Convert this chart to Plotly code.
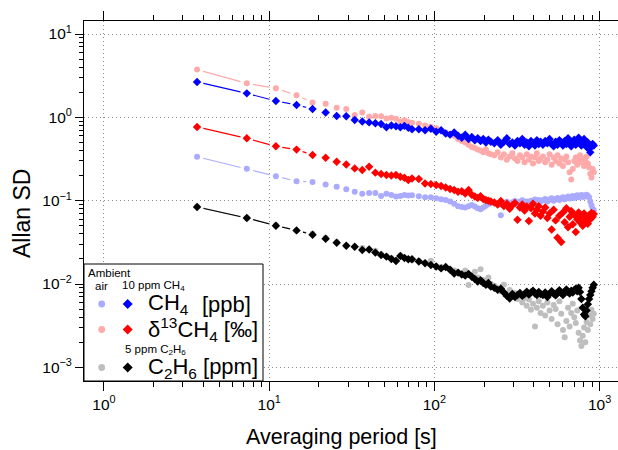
import plotly.graph_objects as go

# ---------------- data ----------------
tau_s = [3.66, 7.32, 10.98, 14.64, 18.3, 21.96, 25.62, 29.28, 32.94, 36.6,
         40.26, 43.92, 47.58, 51.24, 54.9, 58.56, 62.22, 65.88, 69.54, 73.2,
         80.5, 87.8, 95.2, 102.5, 109.8, 117.1, 124.4, 131.8, 139.1, 146.4,
         153.7, 161.0, 168.4, 175.7, 183.0, 190.3, 197.6, 205.0, 212.3, 219.6,
         230.6, 241.6, 252.5, 263.5, 274.5, 285.5, 296.5, 307.4, 318.4, 329.4,
         340.4, 351.4, 362.3, 373.3, 384.3, 395.3, 406.3, 417.2, 428.2, 439.2,
         453.8, 468.5, 483.1, 497.8, 512.4, 527.0, 541.7, 556.3, 571.0, 585.6,
         600.2, 614.9, 629.5, 644.2, 658.8, 673.4, 688.1, 702.7, 717.4, 732.0,
         746.6, 761.3, 775.9, 790.6, 805.2, 819.8, 834.5, 849.1, 863.8, 878.4,
         893.0, 907.7, 922.3]

# CH4 [ppb]
ch4_air = [0.337, 0.242, 0.196, 0.171, 0.168, 0.156, 0.147, 0.137, 0.128, 0.121,
           0.124, 0.124, 0.114, 0.121, 0.117, 0.112, 0.114, 0.117, 0.115, 0.116,
           0.113, 0.110, 0.110, 0.107, 0.104, 0.102, 0.098, 0.092, 0.086, 0.084,
           0.083, 0.086, 0.089, 0.085, 0.081, 0.079, 0.083, 0.087, 0.091, 0.093,
           0.095, 0.090, 0.067, 0.094, 0.097, 0.092, 0.096, 0.099, 0.093, 0.097,
           0.101, 0.095, 0.098, 0.094, 0.100, 0.097, 0.103, 0.099, 0.102, 0.098,
           0.101, 0.105, 0.098, 0.103, 0.107, 0.100, 0.104, 0.108, 0.102, 0.106,
           0.110, 0.104, 0.108, 0.112, 0.106, 0.110, 0.114, 0.108, 0.112, 0.116,
           0.110, 0.113, 0.117, 0.111, 0.115, 0.112, 0.118, 0.114, 0.110, 0.098,
           0.088, 0.080, 0.077]
ch4_10ppm = [2.66, 1.94, 1.57, 1.41, 1.26, 1.14, 1.04, 1.03, 0.93, 0.89,
             0.87, 0.85, 0.83, 0.76, 0.80, 0.78, 0.76, 0.79, 0.75, 0.72,
             0.72, 0.70, 0.73, 0.67, 0.70, 0.64, 0.62, 0.66, 0.60, 0.57,
             0.62, 0.55, 0.58, 0.53, 0.56, 0.52, 0.55, 0.50, 0.54, 0.51,
             0.49, 0.53, 0.47, 0.51, 0.56, 0.48, 0.50, 0.46, 0.52, 0.49,
             0.55, 0.47, 0.50, 0.45, 0.52, 0.49, 0.46, 0.53, 0.48, 0.51,
             0.47, 0.52, 0.49, 0.55, 0.48, 0.45, 0.51, 0.47, 0.53, 0.50,
             0.46, 0.52, 0.48, 0.56, 0.50, 0.45, 0.49, 0.54, 0.47, 0.51,
             0.57, 0.49, 0.46, 0.52, 0.55, 0.48, 0.44, 0.50, 0.42, 0.38,
             0.45, 0.48, 0.46]

# delta13CH4 [permil]
d13c_air = [3.74, 2.56, 2.23, 1.84, 1.51, 1.46, 1.30, 1.26, 1.07, 1.14,
            1.02, 1.04, 1.03, 0.97, 0.99, 0.96, 0.89, 0.92, 0.88, 0.86,
            0.84, 0.80, 0.77, 0.74, 0.70, 0.66, 0.63, 0.60, 0.55, 0.52,
            0.50, 0.47, 0.44, 0.43, 0.41, 0.40, 0.38, 0.41, 0.37, 0.36,
            0.35, 0.38, 0.33, 0.36, 0.31, 0.34, 0.37, 0.32, 0.30, 0.35,
            0.33, 0.29, 0.36, 0.31, 0.34, 0.28, 0.33, 0.37, 0.30, 0.32,
            0.34, 0.29, 0.31, 0.36, 0.27, 0.33, 0.30, 0.35, 0.28, 0.32,
            0.26, 0.31, 0.34, 0.29, 0.22, 0.18, 0.24, 0.30, 0.33, 0.27,
            0.31, 0.35, 0.29, 0.32, 0.26, 0.30, 0.34, 0.28, 0.25, 0.21,
            0.19, 0.24, 0.22]
d13c_10ppm = [0.767, 0.56, 0.449, 0.41, 0.354, 0.328, 0.294, 0.272, 0.244, 0.233,
              0.256, 0.217, 0.209, 0.203, 0.200, 0.203, 0.194, 0.188, 0.177, 0.185,
              0.182, 0.161, 0.158, 0.154, 0.150, 0.144, 0.138, 0.134, 0.128, 0.130,
              0.122, 0.134, 0.118, 0.112, 0.108, 0.113, 0.105, 0.102, 0.100, 0.098,
              0.095, 0.090, 0.099, 0.086, 0.092, 0.080, 0.088, 0.094, 0.059, 0.083,
              0.090, 0.076, 0.085, 0.057, 0.081, 0.092, 0.070, 0.078, 0.086, 0.066,
              0.074, 0.083, 0.062, 0.070, 0.045, 0.078, 0.058, 0.036, 0.066, 0.032,
              0.072, 0.055, 0.081, 0.048, 0.064, 0.075, 0.052, 0.068, 0.042, 0.060,
              0.072, 0.055, 0.065, 0.050, 0.070, 0.058, 0.063, 0.053, 0.067, 0.060,
              0.071, 0.064, 0.069]

# C2H6 [ppm]
c2h6_air = [0.085, 0.062, 0.051, 0.044, 0.040, 0.036, 0.032, 0.029, 0.028, 0.027,
            0.026, 0.025, 0.0228, 0.0216, 0.0205, 0.0196, 0.0220, 0.0208, 0.0200, 0.0194,
            0.0190, 0.0180, 0.0190, 0.0165, 0.0160, 0.0158, 0.0150, 0.0145, 0.0138, 0.0133,
            0.0145, 0.0097, 0.0128, 0.0140, 0.0120, 0.0150, 0.0112, 0.0108, 0.0120, 0.0100,
            0.0095, 0.0090, 0.0082, 0.0098, 0.0075, 0.0085, 0.0070, 0.0078, 0.0066, 0.0072,
            0.0060, 0.0068, 0.0055, 0.0065, 0.0049, 0.0058, 0.0031, 0.0052, 0.0062, 0.0045,
            0.0055, 0.0042, 0.0060, 0.0048, 0.0038, 0.0056, 0.0050, 0.0033, 0.0062, 0.0044,
            0.0028, 0.0023, 0.0036, 0.0052, 0.0031, 0.0045, 0.0058, 0.0040, 0.0034, 0.0048,
            0.0026, 0.0021, 0.0018, 0.0024, 0.0030, 0.0020, 0.0035, 0.0028, 0.0042, 0.0033,
            0.0049, 0.0038, 0.0044]
c2h6_5ppm = [0.084, 0.062, 0.050, 0.044, 0.039, 0.035, 0.0313, 0.0288, 0.028, 0.0256,
             0.026, 0.0238, 0.0223, 0.0213, 0.0200, 0.0189, 0.0217, 0.0205, 0.0198, 0.0198,
             0.0186, 0.0177, 0.0169, 0.0162, 0.0154, 0.0160, 0.0148, 0.0134, 0.0137, 0.0130,
             0.0126, 0.0132, 0.0122, 0.0115, 0.0107, 0.0111, 0.0103, 0.0098, 0.0103, 0.0093,
             0.0090, 0.0085, 0.0088, 0.0079, 0.0072, 0.0067, 0.0076, 0.0070, 0.0074, 0.0078,
             0.0072, 0.0076, 0.0081, 0.0075, 0.0079, 0.0083, 0.0077, 0.0074, 0.0080, 0.0076,
             0.0074, 0.0079, 0.0070, 0.0076, 0.0082, 0.0077, 0.0073, 0.0079, 0.0084, 0.0078,
             0.0074, 0.0081, 0.0086, 0.0080, 0.0077, 0.0083, 0.0079, 0.0085, 0.0088, 0.0082,
             0.0090, 0.0080, 0.0066, 0.0052, 0.0043, 0.0041, 0.0048, 0.0057, 0.0066, 0.0074,
             0.0082, 0.0090, 0.0098]

x_tick_vals = [1, 10, 100, 1000]
x_tick_text = ["10<sup>0</sup>", "10<sup>1</sup>", "10<sup>2</sup>", "10<sup>3</sup>"]
y_tick_vals = [0.001, 0.01, 0.1, 1, 10]
y_tick_text = ["10<sup>\u22123</sup>", "10<sup>\u22122</sup>", "10<sup>\u22121</sup>",
               "10<sup>0</sup>", "10<sup>1</sup>"]

# ---------------- styling ----------------
FONT = "Liberation Sans, Arial, Helvetica, sans-serif"
C_LBLUE, C_BLUE = "#aaaaff", "#0000ff"
C_PINK, C_RED = "#ffaaaa", "#ff0000"
C_GRAY, C_BLACK = "#bebebe", "#000000"
GRID = dict(showgrid=True, gridcolor="#8c8c8c", griddash="1px,3px", gridwidth=1)

W_FIG, H_FIG = 618, 450
L, R, T, B = 84, 618, 21, 381
PW, PH = R - L, B - T


def px(x):
    return (x - L) / PW


def py(y):
    return (B - y) / PH


series = [
    (ch4_air, C_LBLUE, "circle", 6),
    (d13c_air, C_PINK, "circle", 6),
    (c2h6_air, C_GRAY, "circle", 6),
    (ch4_10ppm, C_BLUE, "diamond", 6.5),
    (d13c_10ppm, C_RED, "diamond", 6.5),
    (c2h6_5ppm, C_BLACK, "diamond", 6.5),
]
N_LINE = 5  # connecting segments visible only at the sparse start (type="b")

fig = go.Figure()
for vals, col, sym, sz in series:
    fig.add_trace(go.Scatter(x=tau_s[:N_LINE], y=vals[:N_LINE], mode="lines",
                             line=dict(color=col, width=1.2), showlegend=False,
                             hoverinfo="skip"))
for vals, col, sym, sz in series:
    fig.add_trace(go.Scatter(x=tau_s[:N_LINE], y=vals[:N_LINE], mode="markers",
                             marker=dict(color="white", size=13, symbol="circle",
                                         line=dict(width=0)),
                             showlegend=False, hoverinfo="skip"))
for vals, col, sym, sz in series:
    fig.add_trace(go.Scatter(x=tau_s, y=vals, mode="markers",
                             marker=dict(color=col, size=sz, symbol=sym,
                                         line=dict(width=0)),
                             showlegend=False))
fig.add_trace(go.Scatter(x=[tau_s[0]], y=[ch4_10ppm[0]], xaxis="x2", mode="markers",
                         marker=dict(opacity=0), showlegend=False, hoverinfo="skip"))

minor_x = [m * 10 ** k for k in range(0, 3) for m in range(2, 10)]
minor_y = [m * 10.0 ** k for k in range(-3, 1) for m in range(2, 10)]
xr = [-0.121, -0.121 + PW / 165.2]
yr = [-3.164, -3.164 + PH / 83.33]

tickfont = dict(family=FONT, size=15.5, color="black")
common_x = dict(type="log", range=xr, showline=True, linecolor="black", linewidth=1,
                ticks="outside", ticklen=9, tickwidth=1, tickcolor="black",
                tickmode="array", tickvals=x_tick_vals, automargin=False,
                minor=dict(ticks="outside", ticklen=5, tickwidth=1, tickcolor="black",
                           tickmode="array", tickvals=minor_x, showgrid=False),
                zeroline=False)

fig.update_layout(
    width=W_FIG, height=H_FIG,
    margin=dict(l=L, r=W_FIG - R, t=T, b=H_FIG - B, pad=0, autoexpand=False),
    paper_bgcolor="white", plot_bgcolor="white",
    font=dict(family=FONT, color="black"),
    xaxis=dict(**common_x, ticktext=x_tick_text, tickfont=tickfont, side="bottom",
               **GRID),
    xaxis2=dict(**common_x, overlaying="x", side="top", showticklabels=False,
                showgrid=False),
    yaxis=dict(type="log", range=yr, showline=True, linecolor="black", linewidth=1,
               ticks="outside", ticklen=8, tickwidth=1, tickcolor="black",
               tickmode="array", tickvals=y_tick_vals, ticktext=y_tick_text,
               tickfont=tickfont, automargin=False,
               minor=dict(ticks="outside", ticklen=4, tickwidth=1, tickcolor="black",
                          tickmode="array", tickvals=minor_y, showgrid=False),
               zeroline=False, **GRID),
)

annotations = []
shapes = []

annotations.append(dict(text="Averaging period [s]", x=px(341.5), y=py(437),
                        xref="paper", yref="paper", xanchor="center", yanchor="middle",
                        showarrow=False, font=dict(family=FONT, size=21.5)))
annotations.append(dict(text="Allan SD", x=px(22), y=py(214), textangle=-90,
                        xref="paper", yref="paper", xanchor="center", yanchor="middle",
                        showarrow=False, font=dict(family=FONT, size=23)))

shapes.append(dict(type="rect", xref="paper", yref="paper", x0=px(84), x1=px(263),
                   y0=py(381), y1=py(264), line=dict(color="black", width=1),
                   fillcolor="white", layer="above"))

small = dict(family=FONT, size=11.5, color="black")
big = dict(family=FONT, size=22, color="black")


def txt(s, x, y, font, xanchor="left"):
    annotations.append(dict(text=s, x=px(x), y=py(y), xref="paper", yref="paper",
                            xanchor=xanchor, yanchor="middle", showarrow=False,
                            font=font))


txt("Ambient", 86, 273, small)
txt("air", 101, 285.5, small, "center")
txt("10 ppm CH<sub>4</sub>", 120, 286, small)
txt("5 ppm C<sub>2</sub>H<sub>6</sub>", 122.5, 350, small)

rows = [(304, C_LBLUE, C_BLUE), (329.5, C_PINK, C_RED), (367.5, C_GRAY, C_BLACK)]
for yy, c_air, c_std in rows:
    shapes.append(dict(type="circle", xref="paper", yref="paper",
                       xsizemode="pixel", ysizemode="pixel",
                       xanchor=px(101.7), yanchor=py(yy),
                       x0=-3.4, x1=3.4, y0=-3.4, y1=3.4,
                       fillcolor=c_air, line=dict(width=0), layer="above"))
    shapes.append(dict(type="path", xref="paper", yref="paper",
                       xsizemode="pixel", ysizemode="pixel",
                       xanchor=px(127.7), yanchor=py(yy),
                       path="M 0 5 L 5 0 L 0 -5 L -5 0 Z",
                       fillcolor=c_std, line=dict(width=0), layer="above"))

txt("CH<sub>4</sub>", 146, 304, big)
txt("[ppb]", 253, 304, big, "right")
txt("\u03b4<sup>13</sup>CH<sub>4</sub> [\u2030]", 146, 329.5, big)
txt("C<sub>2</sub>H<sub>6</sub> [ppm]", 146, 368, big)

fig.update_layout(annotations=annotations, shapes=shapes)
fig.write_html("out.html",
               config={"displayModeBar": False, "staticPlot": True},
               post_script="document.body.style.margin='0px';"
                           "document.body.style.padding='0px';")
